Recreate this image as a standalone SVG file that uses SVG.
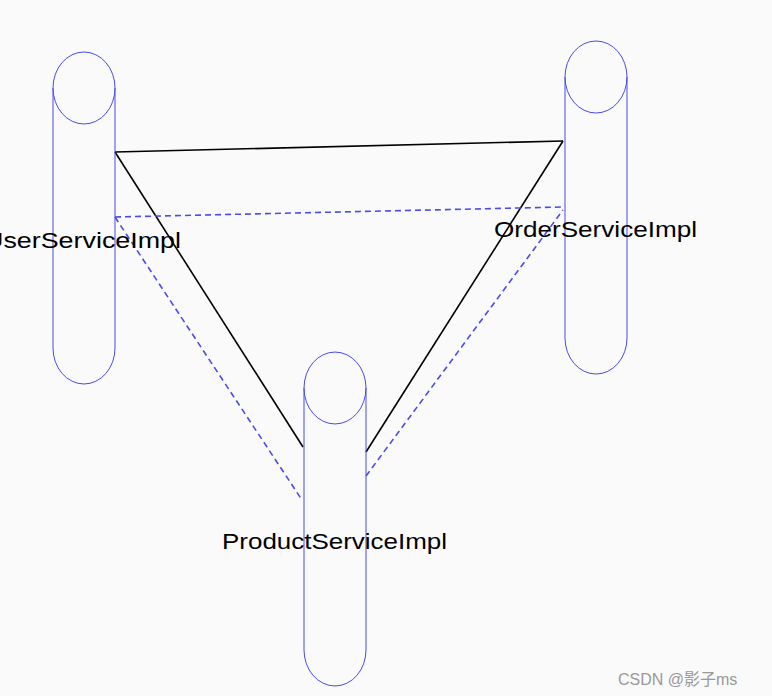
<svg xmlns="http://www.w3.org/2000/svg" width="772" height="696" viewBox="0 0 772 696">
<style>
.cyl{fill:none;stroke:#4a4af0;stroke-width:1}
.lbl{font-family:"Liberation Sans",Arial,sans-serif;font-size:22px;fill:#000}
.solid{stroke:#000;stroke-width:1.6;fill:none}
.dash{stroke:#4a4af0;stroke-width:1.6;stroke-dasharray:6,4;fill:none}
</style>
<rect width="772" height="696" fill="#fafafa"/>
<g id="connectors">
<line class="solid" x1="115" y1="152" x2="563" y2="141"/>
<line class="solid" x1="115" y1="152" x2="303" y2="447"/>
<line class="solid" x1="366" y1="452" x2="563" y2="141"/>
<line class="dash" x1="115" y1="217" x2="563" y2="207"/>
<line class="dash" x1="115" y1="217" x2="302" y2="500"/>
<line class="dash" x1="366" y1="476" x2="563" y2="210"/>
</g>
<g id="user">
<path class="cyl" d="M53 88 A31 36 0 0 1 115 88 V348 A31 36 0 0 1 53 348 Z"/>
<path class="cyl" d="M53 88 A31 36 0 0 0 115 88"/>
<text class="lbl" x="181" y="248" text-anchor="end" textLength="197" lengthAdjust="spacingAndGlyphs">UserServiceImpl</text>
</g>
<g id="order">
<path class="cyl" d="M565 77 A31 36 0 0 1 627 77 V338 A31 36 0 0 1 565 338 Z"/>
<path class="cyl" d="M565 77 A31 36 0 0 0 627 77"/>
<text class="lbl" x="494" y="237" textLength="203" lengthAdjust="spacingAndGlyphs">OrderServiceImpl</text>
</g>
<g id="product">
<path class="cyl" d="M304 388 A31 36 0 0 1 366 388 V650 A31 36 0 0 1 304 650 Z"/>
<path class="cyl" d="M304 388 A31 36 0 0 0 366 388"/>
<text class="lbl" x="222" y="549" textLength="225" lengthAdjust="spacingAndGlyphs">ProductServiceImpl</text>
</g>
<text x="618" y="685" style="font-family:'Liberation Sans','Noto Sans CJK SC',sans-serif;font-size:16px;fill:#999">CSDN @影子ms</text>
</svg>
